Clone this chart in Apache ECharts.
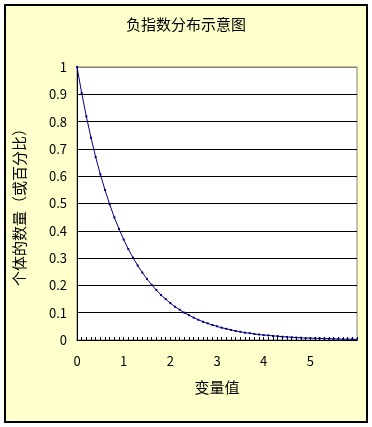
<!DOCTYPE html>
<html>
<head>
<meta charset="utf-8">
<script src="https://cdn.jsdelivr.net/npm/echarts@6/dist/echarts.min.js"></script>
<style>html,body{margin:0;padding:0;background:#fff}#c{width:372px;height:427px}</style>
</head>
<body>
<div id="c"></div>
<script>
var titleText = '负指数分布示意图';
var xName = '变量值';
var yName = '个体的数量（或百分比）';
var xValues = [0,0.1,0.2,0.3,0.4,0.5,0.6,0.7,0.8,0.9,1,1.1,1.2,1.3,1.4,1.5,1.6,1.7,1.8,1.9,2,2.1,2.2,2.3,2.4,2.5,2.6,2.7,2.8,2.9,3,3.1,3.2,3.3,3.4,3.5,3.6,3.7,3.8,3.9,4,4.1,4.2,4.3,4.4,4.5,4.6,4.7,4.8,4.9,5,5.1,5.2,5.3,5.4,5.5,5.6,5.7,5.8,5.9,6];
var yValues = [1.000,0.905,0.819,0.741,0.670,0.607,0.549,0.497,0.449,0.407,0.368,0.333,0.301,0.273,0.247,0.223,0.202,0.183,0.165,0.150,0.135,0.122,0.111,0.100,0.091,0.082,0.074,0.067,0.061,0.055,0.050,0.045,0.041,0.037,0.033,0.030,0.027,0.025,0.022,0.020,0.018,0.017,0.015,0.014,0.012,0.011,0.010,0.009,0.008,0.007,0.007,0.006,0.006,0.005,0.005,0.004,0.004,0.003,0.003,0.003,0.002];
var xTickLabels = ['0','1','2','3','4','5',''];

var font = '"Noto Sans CJK SC", sans-serif';
var chart = echarts.init(document.getElementById('c'), null, {renderer: 'canvas'});
var data = xValues.map(function (x, i) { return [x, yValues[i]]; });
var gridColors = ['#000','#000','#000','#000','#000','#000','#000','#000','#000','#000','#808080'];
chart.setOption({
  backgroundColor: '#ffffff',
  animation: false,
  graphic: [{
    type: 'rect', z: -10, silent: true,
    shape: {x: 5, y: 5, width: 362, height: 417},
    style: {fill: '#FFFFCC', stroke: '#000', lineWidth: 2}
  }, {
    type: 'text', left: 'center', top: 17,
    style: {text: titleText, font: '15px ' + font, fill: '#000'}
  }],
  grid: {left: 77, top: 67, right: 15, bottom: 87, show: true, backgroundColor: '#fff', borderColor: '#808080', borderWidth: 1},
  xAxis: {
    type: 'value', min: 0, max: 6, interval: 1,
    name: xName, nameLocation: 'middle', nameGap: 40,
    nameTextStyle: {fontSize: 15, fontFamily: font, color: '#000'},
    axisLine: {lineStyle: {color: '#000', width: 1}},
    axisTick: {show: true, inside: true, length: 3, lineStyle: {color: '#000'}},
    minorTick: {show: true, splitNumber: 10, length: 3, lineStyle: {color: '#000'}},
    splitLine: {show: false},
    axisLabel: {margin: 15, fontSize: 13, fontFamily: font, color: '#000',
      formatter: function (v) { return xTickLabels[Math.round(v)] || ''; }}
  },
  yAxis: {
    type: 'value', min: 0, max: 1, interval: 0.1,
    name: yName, nameLocation: 'middle', nameGap: 50, nameRotate: 90,
    nameTextStyle: {fontSize: 15, fontFamily: font, color: '#000'},
    axisLine: {show: true, lineStyle: {color: '#000', width: 1}},
    axisTick: {show: false},
    axisLabel: {margin: 10, fontSize: 13, fontFamily: font, color: '#000'},
    splitLine: {show: true, lineStyle: {color: gridColors, width: 1}}
  },
  series: [{
    type: 'line', data: data,
    lineStyle: {color: '#000080', width: 1},
    itemStyle: {color: '#000080'},
    symbol: 'rect', symbolSize: 2, showSymbol: true
  }]
});
</script>
</body>
</html>
